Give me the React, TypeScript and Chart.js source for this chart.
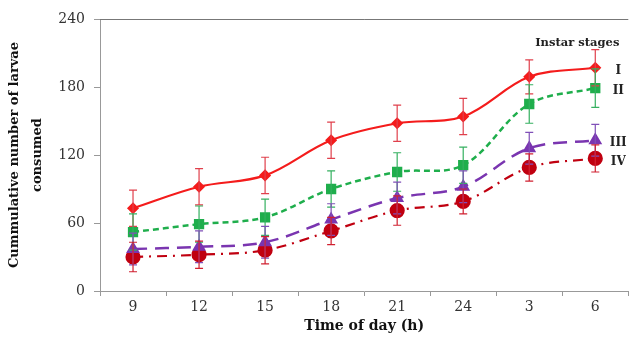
import React, { useEffect, useRef } from "react";
import { Chart, registerables } from "chart.js";

Chart.register(...registerables);

const categories = ["9", "12", "15", "18", "21", "24", "3", "6"];
const seriesNames = ["I", "II", "III", "IV"];
const stageI = [73, 92, 102, 133, 148, 154, 189, 197];
const stageII = [52, 59, 65, 90, 105, 111, 165, 179];
const stageIII = [37, 39, 43, 63, 82, 92, 126, 133];
const stageIV = [30, 32, 36, 53, 71, 79, 109, 117];
const errI = [16, 16, 16, 16, 16, 16, 15, 16];
const errII = [16, 16, 16, 16, 17, 16, 17, 17];
const errIII = [14, 14, 14, 14, 14, 14, 14, 14];
const errIV = [13, 12, 12, 12, 13, 11, 12, 12];
const yTicks = [0, 60, 120, 180, 240];

const colors = ["#f41c1c", "#1fae4c", "#7a35b0", "#c00010"];
const errColors = ["#e0404c", "#35b060", "#8050b8", "#d02030"];

export default function App() {
  const ref = useRef<HTMLCanvasElement>(null);
  useEffect(() => {
    const values = [stageI, stageII, stageIII, stageIV];
    const errs = [errI, errII, errIII, errIV];
    const styles: any[] = [
      { pointStyle: "rectRot", pointRadius: 4.5, borderDash: [], borderWidth: 2.2 },
      { pointStyle: "rect", pointRadius: 5.5, borderDash: [6, 4], borderWidth: 2.5 },
      { pointStyle: "triangle", pointRadius: 5.5, borderDash: [14, 8], borderWidth: 2.5 },
      { pointStyle: "circle", pointRadius: 6.5, borderDash: [10, 6, 2, 6], borderWidth: 2.2 },
    ];
    const plugin = {
      id: "extras",
      afterDatasetsDraw(chart: any) {
        const ctx = chart.ctx;
        const ys = chart.scales.y;
        ctx.save();
        chart.data.datasets.forEach((ds: any, i: number) => {
          const meta = chart.getDatasetMeta(i);
          ctx.strokeStyle = errColors[i];
          ctx.lineWidth = 1.2;
          ctx.setLineDash([]);
          meta.data.forEach((pt: any, j: number) => {
            const v = values[i][j];
            const e = errs[i][j];
            const top = ys.getPixelForValue(v + e);
            const bot = ys.getPixelForValue(v - e);
            ctx.beginPath();
            ctx.moveTo(pt.x, top);
            ctx.lineTo(pt.x, bot);
            ctx.moveTo(pt.x - 4, top);
            ctx.lineTo(pt.x + 4, top);
            ctx.moveTo(pt.x - 4, bot);
            ctx.lineTo(pt.x + 4, bot);
            ctx.stroke();
          });
        });
        ctx.restore();
      },
      afterDraw(chart: any) {
        const ctx = chart.ctx;
        const area = chart.chartArea;
        ctx.save();
        ctx.strokeStyle = "#777";
        ctx.lineWidth = 1;
        ctx.beginPath();
        ctx.moveTo(area.left, area.top + 0.5);
        ctx.lineTo(area.right, area.top + 0.5);
        ctx.stroke();
        ctx.fillStyle = "#222";
        ctx.font = "bold 11.5px 'DejaVu Serif'";
        ctx.textAlign = "center";
        ctx.textBaseline = "middle";
        ctx.fillText("Instar stages", area.right - 51, area.top + 24);
        ctx.font = "bold 12px 'DejaVu Serif'";
        chart.data.datasets.forEach((ds: any, i: number) => {
          const meta = chart.getDatasetMeta(i);
          const pt = meta.data[meta.data.length - 1];
          ctx.fillText(seriesNames[i], pt.x + 23, pt.y + 3);
        });
        ctx.restore();
      },
    };
    const chart = new Chart(ref.current!, {
      type: "line",
      data: {
        labels: categories,
        datasets: values.map((v, i) => ({
          label: seriesNames[i],
          data: v,
          borderColor: colors[i],
          backgroundColor: colors[i],
          pointBackgroundColor: colors[i],
          pointBorderColor: colors[i],
          tension: 0.35,
          fill: false,
          ...styles[i],
        })),
      },
      options: {
        responsive: false,
        animation: false,
        layout: { padding: { top: 19, right: 1, left: 0, bottom: 0 } },
        plugins: { legend: { display: false }, tooltip: { enabled: false } },
        scales: {
          x: {
            offset: true,
            grid: { display: true, drawOnChartArea: false, offset: true, tickLength: 5, color: "#999" },
            border: { color: "#999", width: 1 },
            ticks: { font: { family: "DejaVu Serif", size: 14 }, color: "#333", padding: 3 },
            title: {
              display: true,
              text: "Time of day (h)",
              font: { family: "DejaVu Serif", size: 14, weight: "bold" },
              color: "#111",
              padding: { top: 0, bottom: 2 },
            },
            afterFit: (s: any) => { s.height = 46; },
          },
          y: {
            min: 0,
            max: 240,
            afterBuildTicks: (s: any) => { s.ticks = yTicks.map((v) => ({ value: v })); },
            grid: { display: true, drawOnChartArea: false, tickLength: 6, color: "#999" },
            border: { color: "#999", width: 1 },
            ticks: { font: { family: "DejaVu Serif", size: 14 }, color: "#333", padding: 9 },
            title: {
              display: true,
              text: ["Cummulative number of larvae", "consumed"],
              font: { family: "DejaVu Serif", size: 13, weight: "bold", lineHeight: 1.7 },
              color: "#111",
              padding: { top: 4, bottom: 0 },
            },
            afterFit: (s: any) => { s.width = 100; },
          },
        },
      },
      plugins: [plugin],
    });
    return () => chart.destroy();
  }, []);
  return (
    <div style={{ position: "absolute", left: 0, top: 0, width: 637, height: 337, background: "#fff" }}>
      <canvas ref={ref} width={637} height={337} />
    </div>
  );
}
